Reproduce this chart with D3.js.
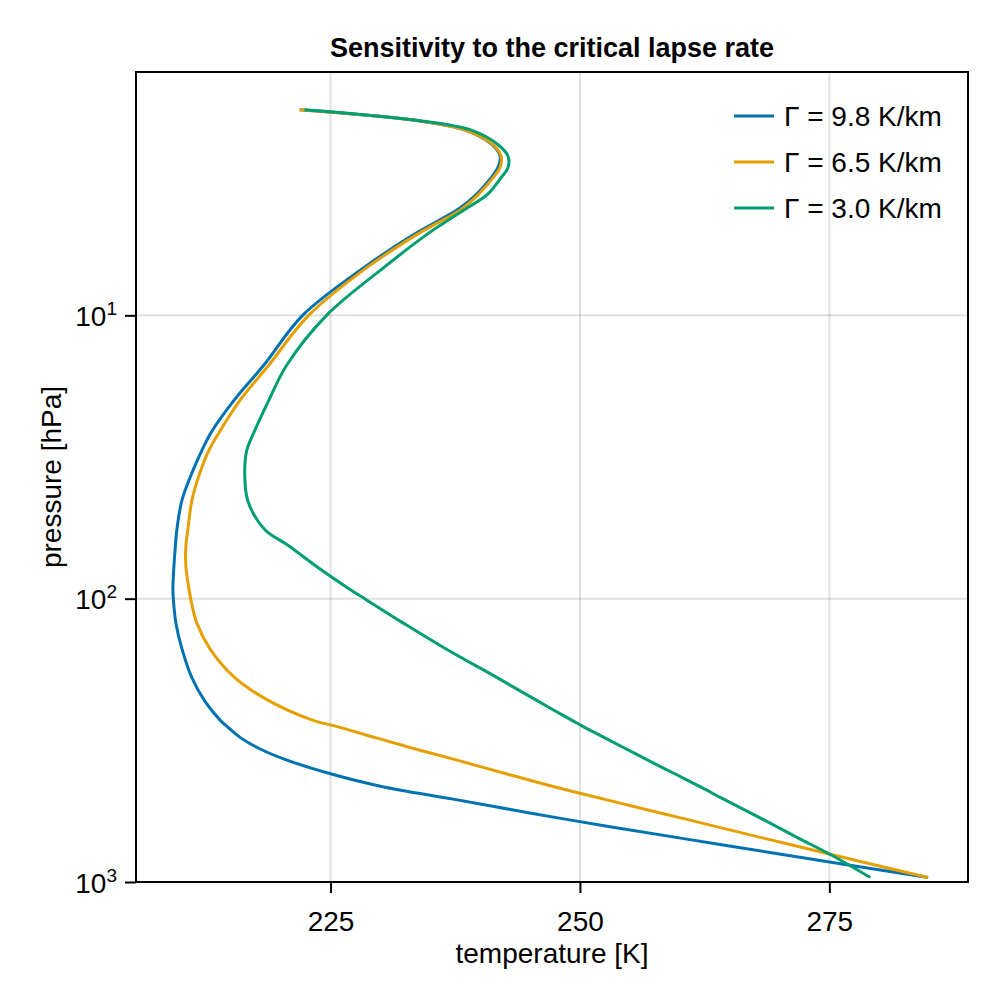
<!DOCTYPE html>
<html>
  <head>
    <meta charset="UTF-8" />
    <title>Sensitivity to the critical lapse rate</title>
    <style>
      body,
      html {
        margin: 0;
        padding: 0;
        background: #fff;
        overflow: hidden;
      }
      svg {
        font-family: "Liberation Sans", Arial, Helvetica, sans-serif;
      }
    </style>
  </head>
  <body>
    <svg id="chart"></svg>
    <script src="https://d3js.org/d3.v7.min.js"></script>
    <script>
      // pressure levels [hPa] and temperature profiles [K]
      const pressure = [1.88, 2.05, 2.22, 2.5, 2.75, 3.0, 3.3, 3.75, 4.2, 5.2, 6.8, 10, 15, 20, 26, 30, 36, 45, 57, 65, 77, 92, 101, 122, 150, 190, 230, 270, 280, 310, 340, 370, 415, 460, 510, 600, 700, 800, 964];
      const tempDry = [221.9, 233.5, 238.5, 241.2, 242.0, 241.8, 241.0, 239.6, 237.9, 233.3, 228.3, 222.2, 218.3, 215.3, 213.0, 212.1, 211.1, 210.1, 209.6, 209.45, 209.3, 209.2, 209.25, 209.5, 210.1, 211.1, 212.4, 214.0, 214.5, 216.0, 218.0, 220.5, 225.0, 230.1, 237.3, 248.5, 260.1, 270.3, 284.9];
      const tempMoist = [221.9, 233.5, 238.5, 241.3, 242.1, 242.0, 241.2, 239.8, 238.2, 233.6, 228.6, 222.8, 218.8, 215.9, 213.8, 212.8, 211.9, 211.1, 210.7, 210.5, 210.5, 210.8, 211.0, 211.6, 212.9, 215.4, 218.9, 223.4, 225.2, 229.6, 233.6, 237.5, 242.6, 247.3, 252.4, 260.6, 268.4, 275.2, 284.9];
      const tempWeak = [222.4, 233.6, 239.1, 241.8, 242.8, 242.8, 242.0, 240.7, 238.6, 234.6, 230.3, 224.6, 220.6, 218.8, 217.3, 216.6, 216.4, 216.7, 218.4, 220.8, 223.6, 226.8, 228.6, 232.3, 236.5, 241.7, 245.8, 249.3, 250.1, 252.5, 254.7, 256.7, 259.5, 262.0, 264.4, 268.3, 271.9, 275.1, 279.1];

      const seriesLabels = ["Γ = 9.8 K/km", "Γ = 6.5 K/km", "Γ = 3.0 K/km"];
      const seriesColors = ["#0072B2", "#E69F00", "#009E73"];
      const xTicks = [225, 250, 275];
      const yTicks = [10, 100, 1000];

      const width = 1000;
      const height = 1000;
      const margin = { top: 72, right: 32, bottom: 118, left: 136 };

      const svg = d3.select("#chart").attr("width", width).attr("height", height);

      const x = d3
        .scaleLinear()
        .domain([205.5, 288.9])
        .range([margin.left, width - margin.right]);

      const y = d3
        .scaleLog()
        .domain([1.384, 1000])
        .range([margin.top, height - margin.bottom]);

      // grid
      const grid = svg.append("g").attr("stroke", "rgba(0,0,0,0.12)").attr("stroke-width", 2);
      grid
        .selectAll(".gx")
        .data(xTicks)
        .join("line")
        .attr("x1", (d) => x(d))
        .attr("x2", (d) => x(d))
        .attr("y1", margin.top)
        .attr("y2", height - margin.bottom);
      grid
        .selectAll(".gy")
        .data(yTicks.slice(0, 2))
        .join("line")
        .attr("x1", margin.left)
        .attr("x2", width - margin.right)
        .attr("y1", (d) => y(d))
        .attr("y2", (d) => y(d));

      // profiles
      const series = [tempDry, tempMoist, tempWeak];
      const line = d3
        .line()
        .curve(d3.curveCatmullRom.alpha(0.5))
        .x((d) => x(d[0]))
        .y((d) => y(d[1]));

      svg
        .append("g")
        .selectAll("path")
        .data(series)
        .join("path")
        .attr("d", (temps) => line(temps.map((t, i) => [t, pressure[i]])))
        .attr("fill", "none")
        .attr("stroke", (d, i) => seriesColors[i])
        .attr("stroke-width", 3)
        .attr("stroke-linejoin", "round");

      // axes
      const xAxis = svg
        .append("g")
        .attr("transform", `translate(0,${height - margin.bottom})`)
        .call(d3.axisBottom(x).tickValues(xTicks).tickSize(11).tickSizeOuter(0).tickPadding(6));
      xAxis.select(".domain").remove();
      xAxis.selectAll(".tick line").attr("stroke", "#000").attr("stroke-width", 2);
      xAxis
        .selectAll(".tick text")
        .attr("font-size", 28)
        .attr("fill", "#000")
        .attr("dy", null)
        .attr("y", 49);

      const yAxis = svg
        .append("g")
        .attr("transform", `translate(${margin.left},0)`)
        .call(d3.axisLeft(y).tickValues(yTicks).tickSize(11).tickSizeOuter(0).tickFormat(""));
      yAxis.select(".domain").remove();
      yAxis.selectAll(".tick line").attr("stroke", "#000").attr("stroke-width", 2);
      yAxis
        .selectAll(".tick text")
        .attr("x", -19)
        .attr("dy", null)
        .attr("y", 10)
        .attr("fill", "#000")
        .attr("font-size", 28)
        .attr("text-anchor", "end")
        .each(function (d) {
          const t = d3.select(this);
          t.append("tspan").text("10");
          t.append("tspan")
            .attr("font-size", 19)
            .attr("dy", -11)
            .text(Math.round(Math.log10(d)));
        });

      // frame
      svg
        .append("rect")
        .attr("x", margin.left)
        .attr("y", margin.top)
        .attr("width", width - margin.left - margin.right)
        .attr("height", height - margin.top - margin.bottom)
        .attr("fill", "none")
        .attr("stroke", "#000")
        .attr("stroke-width", 2);

      // labels
      svg
        .append("text")
        .attr("x", (margin.left + width - margin.right) / 2)
        .attr("y", 57)
        .attr("text-anchor", "middle")
        .attr("font-size", 27)
        .attr("font-weight", "bold")
        .text("Sensitivity to the critical lapse rate");

      svg
        .append("text")
        .attr("x", (margin.left + width - margin.right) / 2)
        .attr("y", 963)
        .attr("text-anchor", "middle")
        .attr("font-size", 28)
        .text("temperature [K]");

      svg
        .append("text")
        .attr("transform", `translate(61,${(margin.top + height - margin.bottom) / 2}) rotate(-90)`)
        .attr("text-anchor", "middle")
        .attr("font-size", 28)
        .text("pressure [hPa]");

      // legend
      const legend = svg
        .append("g")
        .selectAll("g")
        .data(seriesLabels)
        .join("g")
        .attr("transform", (d, i) => `translate(734,${116 + i * 46})`);
      legend
        .append("line")
        .attr("x1", 0)
        .attr("x2", 40)
        .attr("stroke", (d, i) => seriesColors[i])
        .attr("stroke-width", 3);
      legend
        .append("text")
        .attr("x", 50)
        .attr("y", 10)
        .attr("font-size", 28)
        .text((d) => d);
    </script>
  </body>
</html>
